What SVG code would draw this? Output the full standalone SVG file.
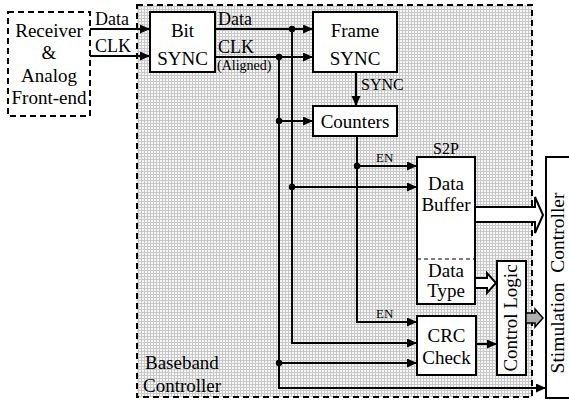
<svg xmlns="http://www.w3.org/2000/svg" width="569" height="402" viewBox="0 0 569 402">
  <defs>
    <pattern id="grid" width="3" height="3" patternUnits="userSpaceOnUse">
      <rect width="3" height="3" fill="#f6f6f6"/>
      <path d="M0,0.5 H3 M0.5,0 V3" stroke="#c8c8c8" stroke-width="1"/>
    </pattern>
    <marker id="arr" markerUnits="userSpaceOnUse" markerWidth="11" markerHeight="10" refX="10" refY="4.5" orient="auto">
      <path d="M0,0 L10,4.5 L0,9 z" fill="#000"/>
    </marker>
  </defs>
  <style>
    .box { fill: #fff; stroke: #000; stroke-width: 2; }
    .dash { stroke: #000; stroke-width: 2; stroke-dasharray: 6 4; }
    .t { font-family: "Liberation Serif", "Times New Roman", serif; font-size: 19px; fill: #000; }
    .m { font-family: "Liberation Serif", "Times New Roman", serif; font-size: 18px; fill: #000; }
    .n { font-family: "Liberation Serif", "Times New Roman", serif; font-size: 16px; fill: #000; }
    .s { font-family: "Liberation Serif", "Times New Roman", serif; font-size: 13px; fill: #000; }
    .c { text-anchor: middle; }
    .w { fill: none; stroke: #000; stroke-width: 2; }
    .a { marker-end: url(#arr); }
    .dot { fill: #000; }
  </style>

  <!-- Baseband controller region -->
  <g id="baseband">
    <rect x="137" y="5" width="395" height="392" fill="url(#grid)" class="dash"/>
    <text class="t" x="145" y="369">Baseband</text>
    <text class="t" x="143" y="392">Controller</text>
  </g>

  <!-- Receiver & Analog Front-end -->
  <g id="receiver">
    <rect x="8" y="12" width="82" height="104" fill="#fff" class="dash"/>
    <text class="t c" x="49" y="37">Receiver</text>
    <text class="t c" x="49" y="59">&amp;</text>
    <text class="t c" x="49" y="82">Analog</text>
    <text class="t c" x="49" y="104">Front-end</text>
  </g>

  <g id="bit-sync">
    <rect class="box" x="150" y="12" width="65" height="60"/>
    <text class="t c" x="182.5" y="37">Bit</text>
    <text class="t c" x="182.5" y="65">SYNC</text>
  </g>

  <g id="frame-sync">
    <rect class="box" x="313" y="12" width="84" height="60"/>
    <text class="t c" x="355" y="37">Frame</text>
    <text class="t c" x="355" y="65">SYNC</text>
  </g>

  <g id="counters">
    <rect class="box" x="313" y="106" width="84" height="30"/>
    <text class="t c" x="355" y="128">Counters</text>
  </g>

  <g id="data-buffer">
    <rect class="box" x="417" y="157" width="58" height="147"/>
    <line x1="417" y1="259" x2="475" y2="259" stroke="#000" stroke-width="1.2" stroke-dasharray="4 3"/>
    <text class="n c" x="446" y="154">S2P</text>
    <text class="t c" x="446" y="190">Data</text>
    <text class="t c" x="446" y="211">Buffer</text>
    <text class="t c" x="446" y="277">Data</text>
    <text class="t c" x="446" y="297">Type</text>
  </g>

  <g id="crc-check">
    <rect class="box" x="417" y="316" width="59" height="59"/>
    <text class="t c" x="446.5" y="342">CRC</text>
    <text class="t c" x="446.5" y="364">Check</text>
  </g>

  <g id="control-logic">
    <rect class="box" x="497" y="261" width="29" height="114"/>
    <text class="t c" transform="translate(517,318) rotate(-90)">Control Logic</text>
  </g>

  <g id="stimulation-controller">
    <rect class="box" x="546" y="157" width="26" height="241"/>
    <text class="t c" style="font-size:19.5px" xml:space="preserve" transform="translate(564,283) rotate(-90)">Stimulation  Controller</text>
  </g>

  <!-- Connectors -->
  <g id="connectors">
    <!-- front-end to bit sync -->
    <line class="w a" x1="90" y1="29" x2="150" y2="29"/>
    <line class="w a" x1="90" y1="56" x2="150" y2="56"/>
    <text class="m" x="95" y="25">Data</text>
    <text class="m" x="95" y="52">CLK</text>

    <!-- bit sync to frame sync -->
    <line class="w a" x1="215" y1="29" x2="313" y2="29"/>
    <line class="w a" x1="215" y1="57" x2="313" y2="57"/>
    <text class="m" x="218" y="25">Data</text>
    <text class="m" x="218" y="53">CLK</text>
    <text class="s" style="font-size:14px" x="217" y="70">(Aligned)</text>

    <!-- frame sync to counters -->
    <line class="w a" x1="356" y1="72" x2="356" y2="106"/>
    <text class="n" x="361" y="90">SYNC</text>

    <!-- aligned clock bus -->
    <polyline class="w a" points="279,57 279,388 546,388"/>
    <line class="w a" x1="279" y1="121" x2="313" y2="121"/>
    <line class="w a" x1="279" y1="363" x2="417" y2="363"/>
    <circle class="dot" cx="279" cy="57" r="3.2"/>
    <circle class="dot" cx="279" cy="121" r="3.2"/>
    <circle class="dot" cx="279" cy="363" r="3.2"/>

    <!-- data bus -->
    <polyline class="w a" points="292,29 292,343 417,343"/>
    <line class="w a" x1="292" y1="187" x2="417" y2="187"/>
    <circle class="dot" cx="292" cy="29" r="3.2"/>
    <circle class="dot" cx="292" cy="187" r="3.2"/>

    <!-- counter enables -->
    <polyline class="w a" points="357,136 357,322 417,322"/>
    <line class="w a" x1="357" y1="166" x2="417" y2="166"/>
    <circle class="dot" cx="357" cy="166" r="3.2"/>
    <text class="s" x="376" y="162">EN</text>
    <text class="s" x="376" y="318">EN</text>

    <!-- crc to control logic -->
    <line class="w a" x1="476" y1="344" x2="497" y2="344"/>

    <!-- wide bus arrows -->
    <polygon points="475,207 535,207 535,197 543,215 535,233 535,222 475,222" fill="#fff" stroke="#000" stroke-width="2"/>
    <polygon points="475,278 487,278 487,273 496,283 487,293 487,288 475,288" fill="#fff" stroke="#000" stroke-width="2"/>
    <polygon points="526,313 535,313 535,309 543,318 535,327 535,323 526,323" fill="#b0b0b0" stroke="#000" stroke-width="1.5"/>
  </g>
</svg>
